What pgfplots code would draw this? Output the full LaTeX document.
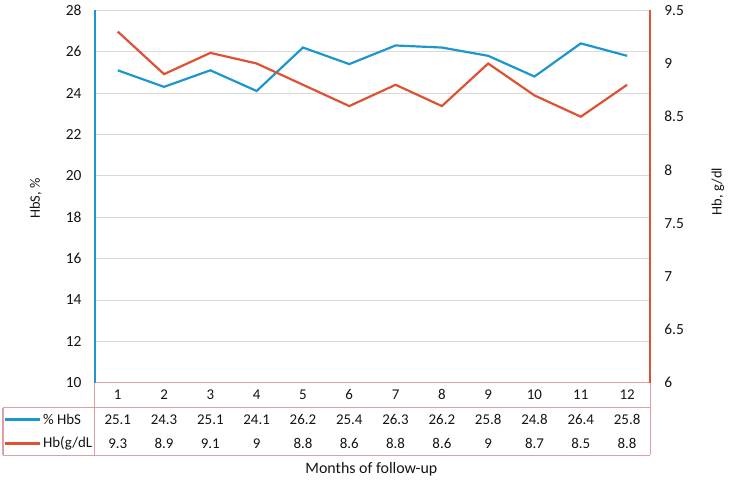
\documentclass[border=0pt]{standalone}
\usepackage{fontspec}
\setmainfont{Carlito}
\usepackage{pgfplots}
\pgfplotsset{compat=1.18}
\definecolor{hbsblue}{RGB}{28,150,205}
\definecolor{hbred}{RGB}{222,82,52}
\definecolor{tabline}{RGB}{222,160,160}
\definecolor{gridgray}{RGB}{217,217,217}
\definecolor{txt}{RGB}{20,20,20}
\begin{document}
\fontsize{15bp}{18bp}\selectfont
\begin{tikzpicture}
\path (0bp,0bp) rectangle (729bp,481bp);
\pgfplotsset{
  myaxis/.style={
    at={(95bp,99bp)}, anchor=south west, scale only axis,
    width=558bp, height=374bp, xmin=0.5, xmax=12.5,
    tick style={draw=none},
    /pgf/number format/assume math mode=true,
    ticklabel style={font=\fontsize{15.5bp}{18bp}\selectfont, text=txt},
    label style={font=\fontsize{14.5bp}{17bp}\selectfont, text=txt},
  }
}
\begin{axis}[myaxis,
  ymin=10, ymax=28, ytick={10,12,...,28},
  xtick={1,...,12},
  ymajorgrids, grid style={gridgray, line width=0.8bp},
  axis x line*=bottom, axis y line*=left,
  x axis line style={tabline, line width=1.2bp, -},
  y axis line style={hbsblue, line width=2bp, -},
  xticklabel style={anchor=center, yshift=-12bp, font=\fontsize{15bp}{18bp}\selectfont},
  yticklabel style={anchor=east, xshift=-8bp},
  ylabel={HbS, \%},
  ylabel style={at={(rel axis cs:-0.106,0.495)}, anchor=center},
]
\addplot[hbsblue, line width=2.2bp] coordinates {
  (1,25.1) (2,24.3) (3,25.1) (4,24.1) (5,26.2) (6,25.4)
  (7,26.3) (8,26.2) (9,25.8) (10,24.8) (11,26.4) (12,25.8)};
\end{axis}
\begin{axis}[myaxis,
  ymin=6, ymax=9.5, ytick={6,6.5,...,9.5},
  axis x line=none, axis y line*=right,
  y axis line style={hbred, line width=2bp, -},
  yticklabel style={anchor=west, xshift=9bp,
    /pgf/number format/fixed, /pgf/number format/precision=1},
  ylabel={Hb, g/dl},
  ylabel style={at={(rel axis cs:1.1215,0.513)}, anchor=center},
]
\addplot[hbred, line width=2.2bp] coordinates {
  (1,9.3) (2,8.9) (3,9.1) (4,9) (5,8.8) (6,8.6)
  (7,8.8) (8,8.6) (9,9) (10,8.7) (11,8.5) (12,8.8)};
\end{axis}
% data table below the chart
\begin{scope}[x=1bp,y=1bp]
\draw[tabline, line width=1.2bp] (95,99) -- (95,26);
\draw[tabline, line width=1.2bp] (653,99) -- (653,26);
\draw[tabline, line width=1.2bp] (3,74) -- (653,74);
\draw[tabline, line width=1.2bp] (3,26) -- (653,26);
\draw[tabline, line width=1.2bp] (3,74) -- (3,26);
\draw[hbsblue, line width=2.2bp] (5,62) -- (40,62);
\draw[hbred, line width=2.2bp] (5,38) -- (40,38);
\node[anchor=west, text=txt, inner sep=0] at (43,62) {\% HbS};
\node[anchor=west, text=txt, inner sep=0] at (43,38) {Hb(g/dL};
\foreach \i/\v in {1/25.1,2/24.3,3/25.1,4/24.1,5/26.2,6/25.4,7/26.3,8/26.2,9/25.8,10/24.8,11/26.4,12/25.8}{
  \pgfmathsetmacro{\xx}{95+(\i-0.5)*46.5}
  \node[text=txt, inner sep=0] at (\xx,62) {\v};
}
\foreach \i/\v in {1/9.3,2/8.9,3/9.1,4/9,5/8.8,6/8.6,7/8.8,8/8.6,9/9,10/8.7,11/8.5,12/8.8}{
  \pgfmathsetmacro{\xx}{95+(\i-0.5)*46.5}
  \node[text=txt, inner sep=0] at (\xx,38) {\v};
}
\node[text=txt, font=\fontsize{16bp}{19bp}\selectfont] at (373,12) {Months of follow-up};
\end{scope}
\end{tikzpicture}
\end{document}
